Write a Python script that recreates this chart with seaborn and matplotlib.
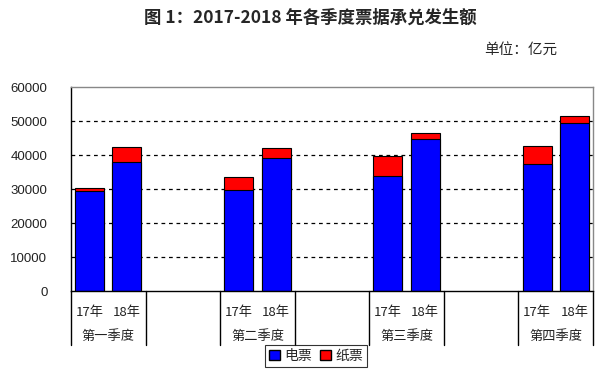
import matplotlib
matplotlib.use("Agg")
import matplotlib.pyplot as plt
import numpy as np
import pandas as pd
import seaborn as sns
from matplotlib.patches import Patch

# ── Data ──────────────────────────────────────────────────────────────────────
quarters = ["第一季度", "第二季度", "第三季度", "第四季度"]
years = ["17年", "18年"]
electronic = [29400, 37900, 29600, 39000, 33700, 44600, 37300, 49500]   # 电票
paper = [800, 4400, 3800, 3000, 5900, 1800, 5300, 1900]                 # 纸票
yticks = [0, 10000, 20000, 30000, 40000, 50000, 60000]

# ── Style ─────────────────────────────────────────────────────────────────────
sns.set_theme(style="white")
plt.rcParams["font.family"] = ["Noto Sans CJK SC", "DejaVu Sans"]

BLUE = "#0000FF"
RED = "#FF0000"

# slots: each quarter gets 2 bars, followed by an empty group of 2 slots
slots = []
rows = []
for qi, q in enumerate(quarters):
    for yi, y in enumerate(years):
        key = f"{q}-{y}"
        slots.append(key)
        idx = qi * 2 + yi
        rows.append({"slot": key, "elec": electronic[idx],
                     "total": electronic[idx] + paper[idx]})
    if qi < len(quarters) - 1:
        slots += [f"gap{qi}a", f"gap{qi}b"]
df = pd.DataFrame(rows)

fig = plt.figure(figsize=(6.09, 3.84), dpi=100)
ax = fig.add_axes([71 / 609, 1 - 291 / 384, 522 / 609, 204 / 384])

sns.barplot(data=df, x="slot", y="total", order=slots, color=RED,
            width=0.78, edgecolor="black", linewidth=0.8, saturation=1, ax=ax)
sns.barplot(data=df, x="slot", y="elec", order=slots, color=BLUE,
            width=0.78, edgecolor="black", linewidth=0.8, saturation=1, ax=ax)

ax.set_xlim(-0.5, len(slots) - 0.5)
ax.set_ylim(0, 60000)
ax.set_yticks(yticks)
ax.set_yticklabels([str(v) for v in yticks], fontsize=9.5,
                   family=["Liberation Sans", "DejaVu Sans"], color="#222222")
ax.tick_params(axis="y", length=0, pad=17)
ax.set_xticks([])
ax.set_xlabel("")
ax.set_ylabel("")

# dashed gridlines
for v in yticks[1:-1]:
    ax.axhline(v, color="black", linestyle=(0, (3, 3)), linewidth=0.9, zorder=0)

for s in ["top", "right"]:
    ax.spines[s].set_color("#888888")
    ax.spines[s].set_linewidth(1.0)
for s in ["left", "bottom"]:
    ax.spines[s].set_color("black")
    ax.spines[s].set_linewidth(1.0)

# category separators and labels below axis
xt = ax.get_xaxis_transform()
for b in np.arange(-0.5, len(slots), 2):
    ax.plot([b, b], [0, -0.265], color="black", linewidth=1.0,
            transform=xt, clip_on=False)

for i, key in enumerate(slots):
    if key.startswith("gap"):
        continue
    q, y = key.split("-")
    ax.text(i, -0.103, y, transform=xt, ha="center", va="center",
            fontsize=9.5, color="#222222")
    if y == years[0]:
        ax.text(i + 0.5, -0.225, q, transform=xt, ha="center", va="center",
                fontsize=9.5, color="#222222")

# title and unit
fig.text(310 / 609, 1 - 18 / 384, "图 1：2017-2018 年各季度票据承兑发生额",
         ha="center", va="center", fontsize=12.5, fontweight="bold")
fig.text(557 / 609, 1 - 50 / 384, "单位：亿元", ha="right", va="center",
         fontsize=10.5)

handles = [Patch(facecolor=BLUE, edgecolor="black", label="电票"),
           Patch(facecolor=RED, edgecolor="black", label="纸票")]
leg = fig.legend(handles=handles, loc="center", bbox_to_anchor=(316 / 609, 1 - 356 / 384),
                 ncol=2, frameon=True, fancybox=False, fontsize=10,
                 handlelength=0.8, handleheight=0.8, handletextpad=0.3,
                 columnspacing=0.6, borderpad=0.3)
leg.get_frame().set_edgecolor("black")
leg.get_frame().set_linewidth(0.8)

fig.savefig("out.png", dpi=100)
